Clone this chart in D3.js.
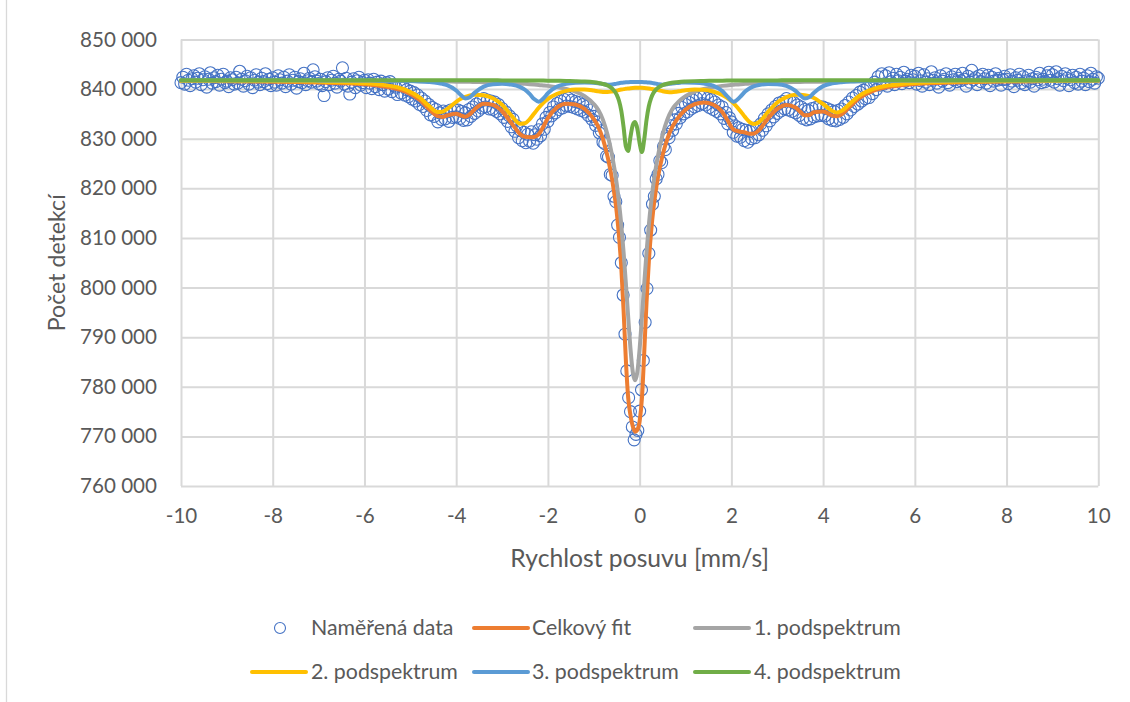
<!DOCTYPE html>
<html>
<head>
<meta charset="utf-8">
<title>Mössbauerovo spektrum</title>
<script src="https://cdn.jsdelivr.net/npm/d3@7/dist/d3.min.js"></script>
<style>
  html, body { margin: 0; padding: 0; background: #ffffff; }
  svg { display: block; }
  text { font-family: Lato, "Open Sans", "DejaVu Sans", sans-serif; }
</style>
</head>
<body>
<svg id="chart" width="1130" height="702"></svg>
<script>
// ---------------- DATA ----------------
// channel velocities: first channel and channel step (mm/s)
const velocityStart = -10;
const velocityStep = 0.04;
// measured counts, in thousands (one value per channel)
const measuredK = [
 841.3,842.4,841.0,843.0,841.8,840.7,842.1,842.7,841.4,842.2,843.1,840.9,841.9,842.5,840.4,842.0,843.3,841.2,842.3,841.5,842.8,840.8,842.0,843.0,841.3,
 841.6,840.5,842.3,841.9,841.0,842.4,841.2,843.6,842.0,840.6,841.7,842.6,841.0,842.3,840.3,841.8,842.9,841.4,840.9,842.2,841.5,843.1,841.1,842.0,840.7,
 842.3,841.4,840.8,842.7,841.9,841.2,842.4,840.5,841.6,842.9,841.0,841.8,842.4,840.2,841.5,842.1,841.3,843.2,840.9,841.7,842.2,841.4,843.9,842.5,841.6,
 841.1,842.0,840.7,838.7,841.5,842.3,840.9,841.8,842.6,841.2,840.4,842.0,841.6,844.3,841.0,842.2,840.6,839.0,841.4,842.1,840.3,841.7,842.4,840.8,841.3,
 841.8,840.3,841.9,841.2,840.1,842.0,840.5,841.4,839.9,841.6,840.9,839.6,841.3,840.0,841.5,839.5,840.8,840.4,838.9,840.7,839.2,840.6,838.8,839.9,838.5,
 839.6,838.0,839.3,837.6,838.8,836.9,838.2,836.5,837.6,835.7,836.9,834.8,836.3,834.5,835.9,833.4,835.2,833.9,835.6,834.0,835.4,833.5,835.8,834.3,835.9,
 834.4,835.8,834.1,835.5,833.7,835.2,833.8,835.9,834.5,836.4,835.1,837.0,835.6,837.5,836.2,838.1,836.4,837.8,836.0,837.6,835.9,837.4,835.5,836.9,835.0,
 836.1,834.3,835.4,833.5,834.6,832.4,833.9,831.5,832.6,830.2,831.7,829.6,831.3,829.2,830.9,829.5,831.4,829.1,830.8,829.9,831.8,830.6,833.0,831.9,834.3,
 833.5,835.3,834.6,836.4,835.2,837.1,835.9,837.6,836.2,837.9,836.6,838.2,836.5,837.8,836.3,837.5,836.0,837.3,835.7,836.9,835.4,836.5,834.7,835.8,833.9,
 834.5,832.7,833.4,831.2,831.6,829.3,829.0,826.5,826.3,822.8,822.6,818.4,817.3,812.6,810.1,805.0,798.5,790.6,783.2,777.8,775.0,771.9,769.3,770.4,771.2,
 775.1,779.4,785.3,793.0,799.8,806.9,811.6,816.8,818.4,821.9,822.8,825.6,825.2,828.4,827.8,830.9,830.2,832.6,831.7,833.8,833.0,835.1,834.2,836.3,835.0,
 836.9,835.4,837.3,836.0,837.8,836.4,838.2,836.7,838.5,837.1,838.6,836.8,838.1,836.3,837.9,835.9,837.4,835.5,836.8,835.0,836.4,834.1,835.3,833.0,834.2,
 833.4,831.3,832.6,830.5,832.2,830.3,831.9,829.6,831.7,829.3,831.5,830.0,832.1,830.2,832.3,830.8,833.0,831.7,834.1,832.6,835.0,833.6,835.8,834.4,836.5,
 835.1,837.2,835.6,837.5,836.0,838.1,835.8,837.6,835.5,837.3,835.2,836.8,834.7,836.4,834.1,835.9,833.8,835.7,834.0,836.1,834.4,836.3,834.6,836.5,834.7,
 836.4,834.6,836.1,834.0,835.8,833.7,835.5,833.6,835.7,833.9,836.0,834.3,836.7,835.0,837.4,835.8,838.2,836.5,838.7,837.0,839.4,837.6,839.8,838.1,840.2,
 838.3,840.6,839.1,841.4,839.9,842.5,840.8,843.1,841.0,842.7,840.6,843.3,841.5,842.2,840.9,843.0,841.7,842.4,841.1,843.4,841.6,842.0,841.3,842.8,841.9,
 842.6,841.0,843.2,841.7,840.6,842.9,841.4,842.1,840.9,843.5,841.8,842.3,841.2,840.4,842.7,841.6,842.0,843.1,841.3,840.8,842.5,841.9,843.0,841.5,842.2,
 841.7,843.2,842.0,840.6,842.6,841.4,843.8,841.9,842.3,840.9,842.7,841.5,843.0,842.1,841.2,842.8,840.7,842.4,841.6,843.1,841.8,842.2,840.8,841.9,842.6,
 842.0,841.1,842.9,841.6,840.5,842.3,841.8,843.0,841.2,842.5,840.9,841.7,842.8,841.4,842.1,840.6,842.4,841.9,843.2,841.3,842.0,841.5,842.7,843.4,841.8,
 842.9,841.4,843.5,842.1,840.8,842.6,841.7,843.1,842.2,840.7,841.9,842.8,841.3,842.4,841.0,843.0,841.6,842.2,840.9,842.7,841.5,843.2,842.0,841.2,842.5,
 842.2
];
// velocities (mm/s) at which the fitted curves are tabulated
const fitVelocity = [
 -10,-9,-8,-7.5,-7,-6.5,-6,-5.7,-5.4,-5.1,
 -4.8,-4.6,-4.4,-4.3,-4.2,-4.0,-3.9,-3.8,-3.7,-3.6,
 -3.4,-3.2,-3.0,-2.8,-2.6,-2.5,-2.4,-2.3,-2.2,-2.1,
 -2.0,-1.8,-1.6,-1.4,-1.2,-1.0,-0.9,-0.8,-0.7,-0.6,
 -0.5,-0.45,-0.4,-0.35,-0.3,-0.25,-0.2,-0.15,-0.1,-0.05,
 0,0.05,0.1,0.15,0.2,0.25,0.3,0.35,0.4,0.5,
 0.6,0.7,0.8,0.9,1.0,1.2,1.4,1.6,1.8,1.9,
 2.05,2.2,2.3,2.4,2.5,2.6,2.8,3.0,3.2,3.4,
 3.5,3.6,3.7,3.8,4.0,4.2,4.3,4.4,4.6,4.8,
 5.1,5.4,5.7,6.0,6.5,7,7.5,8,9,10
];
// Celkový fit (thousands of counts)
const totalFitK = [
 841.64,841.59,841.50,841.44,841.35,841.20,840.97,840.71,840.28,839.49,
 837.85,836.04,834.54,834.40,834.67,835.03,834.72,834.43,834.95,835.91,
 837.04,836.82,835.54,833.22,830.89,830.39,830.30,830.34,830.90,832.43,
 834.19,836.32,837.07,836.90,835.99,833.96,832.37,829.90,826.42,821.78,
 815.17,810.34,803.98,795.34,785.26,777.79,774.27,772.04,770.94,771.31,
 773.07,777.69,786.90,797.03,805.18,811.22,815.88,819.43,822.28,826.66,
 829.87,832.17,833.71,834.92,835.85,836.95,837.30,836.90,835.40,833.98,
 831.82,831.41,831.26,831.00,831.06,831.72,834.11,836.02,836.81,836.28,
 835.45,834.73,834.80,835.33,835.50,834.65,834.53,834.92,836.66,838.28,
 839.71,840.41,840.78,841.02,841.24,841.38,841.46,841.52,841.61,841.66
];
// 1. podspektrum
const subspectrum1K = [
 841.75,841.74,841.72,841.71,841.70,841.68,841.67,841.65,841.63,841.62,
 841.60,841.57,841.55,841.54,841.53,841.50,841.49,841.48,841.47,841.44,
 841.40,841.35,841.30,841.22,841.12,841.06,841.00,840.93,840.85,840.75,
 840.65,840.40,840.05,839.50,838.60,837.00,835.80,833.80,830.80,826.60,
 820.90,817.10,812.60,807.10,800.80,794.10,787.70,783.00,781.30,783.00,
 787.70,794.10,800.80,807.10,812.60,817.10,820.90,824.00,826.60,830.80,
 833.80,835.80,837.00,837.90,838.60,839.50,840.05,840.40,840.65,840.75,
 840.88,841.00,841.06,841.12,841.17,841.22,841.30,841.35,841.40,841.44,
 841.45,841.46,841.47,841.48,841.50,841.53,841.54,841.55,841.57,841.59,
 841.62,841.63,841.65,841.67,841.68,841.70,841.71,841.72,841.74,841.75
];
// 2. podspektrum
const subspectrum2K = [
 841.71,841.68,841.62,841.58,841.51,841.40,841.19,840.97,840.59,839.86,
 838.32,836.66,835.38,835.43,835.97,837.44,838.04,838.46,838.74,838.87,
 838.78,838.15,836.83,834.72,833.01,833.11,833.91,835.07,836.23,837.23,
 838.02,839.07,839.65,839.92,839.92,839.70,839.54,839.42,839.40,839.51,
 839.70,839.81,839.91,840.00,840.07,840.14,840.19,840.23,840.25,840.26,
 840.26,840.25,840.22,840.18,840.12,840.05,839.98,839.88,839.79,839.57,
 839.42,839.38,839.47,839.63,839.78,839.94,839.86,839.51,838.82,838.27,
 837.13,835.55,834.35,833.36,832.95,833.31,835.41,837.31,838.40,838.84,
 838.86,838.79,838.58,838.20,837.00,835.59,835.31,835.60,837.19,838.72,
 840.05,840.70,841.03,841.23,841.42,841.53,841.59,841.64,841.69,841.72
];
// 3. podspektrum
const subspectrum3K = [
 841.79,841.79,841.77,841.77,841.76,841.75,841.73,841.71,841.68,841.63,
 841.55,841.44,841.24,841.06,840.80,839.72,838.82,838.12,838.37,839.24,
 840.50,840.96,841.06,840.92,840.41,839.87,839.04,837.99,837.47,838.11,
 839.18,840.52,841.05,841.28,841.35,841.29,841.19,841.04,840.90,840.94,
 841.11,841.19,841.27,841.32,841.37,841.40,841.42,841.43,841.44,841.44,
 841.43,841.42,841.40,841.36,841.32,841.27,841.19,841.10,841.01,840.89,
 840.96,841.12,841.25,841.31,841.34,841.29,841.12,840.69,839.61,838.63,
 837.47,838.52,839.50,840.17,840.59,840.84,841.04,841.00,840.65,839.64,
 838.77,838.11,838.38,839.28,840.60,841.15,841.30,841.39,841.52,841.59,
 841.66,841.70,841.72,841.74,841.76,841.77,841.77,841.78,841.79,841.79
];
// 4. podspektrum
const subspectrum4K = [
 841.80,841.80,841.79,841.79,841.79,841.79,841.79,841.79,841.79,841.78,
 841.78,841.78,841.78,841.78,841.78,841.78,841.77,841.77,841.77,841.77,
 841.77,841.77,841.76,841.76,841.75,841.74,841.74,841.73,841.73,841.72,
 841.71,841.69,841.65,841.60,841.52,841.37,841.24,841.04,840.72,840.13,
 838.86,837.64,835.60,832.32,828.42,827.55,830.36,832.78,833.35,832.01,
 829.08,827.32,829.88,833.79,836.54,838.20,839.21,839.85,840.28,840.80,
 841.09,841.27,841.39,841.48,841.53,841.61,841.66,841.69,841.71,841.72,
 841.73,841.74,841.74,841.75,841.75,841.75,841.76,841.76,841.77,841.77,
 841.77,841.77,841.77,841.77,841.78,841.78,841.78,841.78,841.78,841.78,
 841.78,841.79,841.79,841.79,841.79,841.79,841.79,841.79,841.80,841.80
];
const xTickValues = [-10,-8,-6,-4,-2,0,2,4,6,8,10];
const yTickValues = [760000,770000,780000,790000,800000,810000,820000,830000,840000,850000];
const xAxisTitle = "Rychlost posuvu [mm/s]";
const yAxisTitle = "Počet detekcí";
const seriesNames = ["Naměřená data","Celkový fit","1. podspektrum","2. podspektrum","3. podspektrum","4. podspektrum"];
const seriesColors = ["#4472C4","#ED7D31","#A5A5A5","#FFC000","#5B9BD5","#70AD47"];

// ---------------- LAYOUT ----------------
const svg = d3.select("#chart");
const X0 = 181, X1 = 1098.3, Y0 = 486, Y1 = 39.5;
const textColor = "#595959", gridColor = "#d9d9d9";
const x = d3.scaleLinear().domain([-10, 10]).range([X0, X1]);
const y = d3.scaleLinear().domain([760000, 850000]).range([Y0, Y1]);
const loc = d3.formatLocale({decimal: ",", thousands: "\u00a0", grouping: [3], currency: ["", ""], minus: "-"});
const yFmt = loc.format(",d");
const xFmt = loc.format("d");

function fontFor(str, targetWidth, base) {
  const t = svg.append("text").attr("font-size", base).text(str);
  const w = t.node().getComputedTextLength();
  t.remove();
  return base * targetWidth / w;
}
const tickFont = fontFor("850 000", 77, 20);
const titleFont = fontFor(xAxisTitle, 259, 22);
const yTitleFont = fontFor(yAxisTitle, 137, 22);
const legendFont = fontFor("1. podspektrum", 147, 20);

// chart area border (left edge)
svg.append("line").attr("x1", 6.5).attr("x2", 6.5).attr("y1", 0).attr("y2", 702)
  .attr("stroke", gridColor).attr("stroke-width", 1.3);

// y axis with gridlines
const gy = svg.append("g").attr("transform", `translate(${X0},0)`)
  .call(d3.axisLeft(y).tickValues(yTickValues).tickSize(-(X1 - X0)).tickPadding(24).tickFormat(yFmt));
gy.select(".domain").remove();
gy.attr("font-family", null).attr("font-size", null);
gy.selectAll(".tick line").attr("stroke", gridColor).attr("stroke-width", 2);
gy.selectAll(".tick text").attr("fill", textColor).attr("font-size", tickFont);

// x axis with gridlines
const gx = svg.append("g").attr("transform", `translate(0,${Y0})`)
  .call(d3.axisBottom(x).tickValues(xTickValues).tickSize(-(Y0 - Y1)).tickPadding(22).tickFormat(xFmt));
gx.select(".domain").remove();
gx.attr("font-family", null).attr("font-size", null);
gx.selectAll(".tick line").attr("stroke", gridColor).attr("stroke-width", 2);
gx.selectAll(".tick text").attr("fill", textColor).attr("font-size", tickFont);

// axis titles
svg.append("text").attr("x", (X0 + X1) / 2).attr("y", 558).attr("dy", "0.35em")
  .attr("text-anchor", "middle").attr("fill", textColor).attr("font-size", titleFont).text(xAxisTitle);
svg.append("text").attr("transform", `translate(57,${(Y0 + Y1) / 2}) rotate(-90)`).attr("dy", "0.35em")
  .attr("text-anchor", "middle").attr("fill", textColor).attr("font-size", yTitleFont).text(yAxisTitle);

// measured data
const measuredPts = measuredK.map((k, i) => [velocityStart + i * velocityStep, k * 1000]);
svg.append("g").selectAll("circle").data(measuredPts).join("circle")
  .attr("cx", d => x(d[0])).attr("cy", d => y(d[1])).attr("r", 6)
  .attr("fill", "none").attr("stroke", seriesColors[0]).attr("stroke-width", 1.1);

// fitted curves
const line = d3.line().x(d => x(d[0])).y(d => y(d[1])).curve(d3.curveMonotoneX);
const curves = [totalFitK, subspectrum1K, subspectrum2K, subspectrum3K, subspectrum4K];
curves.forEach((arr, ci) => {
  const pts = fitVelocity.map((v, i) => [v, arr[i] * 1000]).filter(d => isFinite(d[1]));
  svg.append("path").datum(pts).attr("d", line)
    .attr("fill", "none").attr("stroke", seriesColors[ci + 1]).attr("stroke-width", 4)
    .attr("stroke-linejoin", "round").attr("stroke-linecap", "round");
});

// legend
const legendSlots = [
  {lx: 252, tx: 311, y: 628}, {lx: 474, tx: 532, y: 628}, {lx: 695, tx: 754, y: 628},
  {lx: 252, tx: 311, y: 672}, {lx: 474, tx: 532, y: 672}, {lx: 695, tx: 754, y: 672}
];
const lg = svg.append("g");
seriesNames.forEach((name, i) => {
  const s = legendSlots[i];
  if (i === 0) {
    lg.append("circle").attr("cx", s.lx + 28).attr("cy", s.y).attr("r", 5.5)
      .attr("fill", "none").attr("stroke", seriesColors[0]).attr("stroke-width", 1.1);
  } else {
    lg.append("line").attr("x1", s.lx).attr("x2", s.lx + 54).attr("y1", s.y).attr("y2", s.y)
      .attr("stroke", seriesColors[i]).attr("stroke-width", 4).attr("stroke-linecap", "round");
  }
  lg.append("text").attr("x", s.tx).attr("y", s.y).attr("dy", "0.35em")
    .attr("fill", textColor).attr("font-size", legendFont).text(name);
});
</script>
</body>
</html>
